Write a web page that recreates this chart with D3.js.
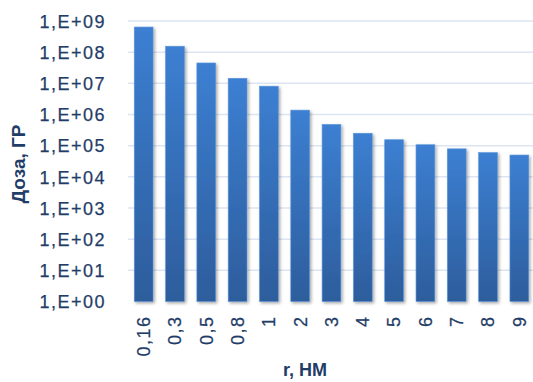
<!DOCTYPE html>
<html>
<head>
<meta charset="utf-8">
<script src="https://cdn.jsdelivr.net/npm/d3@7"></script>
<style>
  html, body { margin: 0; padding: 0; background: #ffffff; }
  svg { display: block; }
</style>
</head>
<body>
<svg id="chart" width="533" height="382"></svg>
<script>
// Distance from the centre, nm
const categories = ["0,16", "0,3", "0,5", "0,8", "1", "2", "3", "4", "5", "6", "7", "8", "9"];
// Absorbed dose, Gy
const doses = [6.4e8, 1.55e8, 4.5e7, 1.45e7, 8.1e6, 1.38e6, 4.8e5, 2.5e5, 1.55e5, 1.07e5, 7.9e4, 6.0e4, 5.0e4];
// Decade ticks on the dose axis
const tickValues = [1e0, 1e1, 1e2, 1e3, 1e4, 1e5, 1e6, 1e7, 1e8, 1e9];
const tickLabels = ["1,E+00", "1,E+01", "1,E+02", "1,E+03", "1,E+04", "1,E+05", "1,E+06", "1,E+07", "1,E+08", "1,E+09"];
const yTitle = "Доза, ГР";
const xTitle = "r, НМ";

const svg = d3.select("#chart");
const textColor = "#1f3d68";
const font = "'Liberation Sans', Arial, sans-serif";

const plot = { left: 128, right: 535, top: 21, bottom: 301.5 };

const x = d3.scaleBand().domain(categories).range([plot.left, plot.right]).paddingInner(0.4).paddingOuter(0.2);
const y = d3.scaleLog().domain([1e0, 1e9]).range([plot.bottom, plot.top]);

const defs = svg.append("defs");
const grad = defs.append("linearGradient").attr("id", "barGrad").attr("x1", 0).attr("y1", 0).attr("x2", 0).attr("y2", 1);
grad.append("stop").attr("offset", "0%").attr("stop-color", "#3c7fd2");
grad.append("stop").attr("offset", "100%").attr("stop-color", "#2d5d9c");
const shadow = defs.append("filter").attr("id", "shadow").attr("x", "-30%").attr("y", "-10%").attr("width", "170%").attr("height", "130%");
shadow.append("feDropShadow").attr("dx", 1.5).attr("dy", 1.5).attr("stdDeviation", 1.8).attr("flood-color", "#000").attr("flood-opacity", 0.35);

// Horizontal gridlines
svg.append("g").selectAll("line").data(tickValues.slice(1)).join("line")
  .attr("x1", plot.left).attr("x2", 533)
  .attr("y1", d => y(d)).attr("y2", d => y(d))
  .attr("stroke", "#dce5f1").attr("stroke-width", 1.5);

// Baseline
svg.append("line")
  .attr("x1", plot.left).attr("x2", 533)
  .attr("y1", plot.bottom + 0.5).attr("y2", plot.bottom + 0.5)
  .attr("stroke", "#c9d3e0").attr("stroke-width", 1.5)
  .attr("filter", "url(#shadow)");

// Bars
svg.append("g").selectAll("rect").data(doses).join("rect")
  .attr("x", (d, i) => x(categories[i]))
  .attr("width", x.bandwidth())
  .attr("y", d => y(d))
  .attr("height", d => y(1e0) - y(d))
  .attr("fill", "url(#barGrad)")
  .attr("stroke", "#5b95da").attr("stroke-width", 0.6)
  .attr("filter", "url(#shadow)");

// Y axis tick labels
const yAxis = d3.axisLeft(y).tickValues(tickValues).tickFormat((d, i) => tickLabels[i]).tickSize(0).tickPadding(0);
const yg = svg.append("g").attr("transform", "translate(106,0)").call(yAxis);
yg.select(".domain").remove();
yg.selectAll("text")
  .attr("fill", textColor).attr("font-family", font).attr("font-size", 18)
  .attr("letter-spacing", 1.5).attr("dy", "0.35em")
  .attr("stroke", textColor).attr("stroke-width", 0.25);

// X axis tick labels, rotated
const xAxis = d3.axisBottom(x).tickSize(0).tickPadding(0);
const xg = svg.append("g").attr("transform", `translate(0,${plot.bottom})`).call(xAxis);
xg.select(".domain").remove();
xg.selectAll("text")
  .attr("fill", textColor).attr("font-family", font).attr("font-size", 18)
  .attr("letter-spacing", 1.5)
  .attr("stroke", textColor).attr("stroke-width", 0.25)
  .attr("text-anchor", "end")
  .attr("transform", "rotate(-90)")
  .attr("x", -14).attr("y", 0).attr("dy", "0.35em");

// Axis titles
svg.append("text")
  .attr("transform", "translate(25,164) rotate(-90)")
  .attr("text-anchor", "middle")
  .attr("fill", textColor).attr("font-family", font).attr("font-size", 19).attr("font-weight", "bold")
  .text(yTitle);

svg.append("text")
  .attr("x", 305).attr("y", 376)
  .attr("text-anchor", "middle")
  .attr("fill", textColor).attr("font-family", font).attr("font-size", 18).attr("font-weight", "bold")
  .text(xTitle);
</script>
</body>
</html>
